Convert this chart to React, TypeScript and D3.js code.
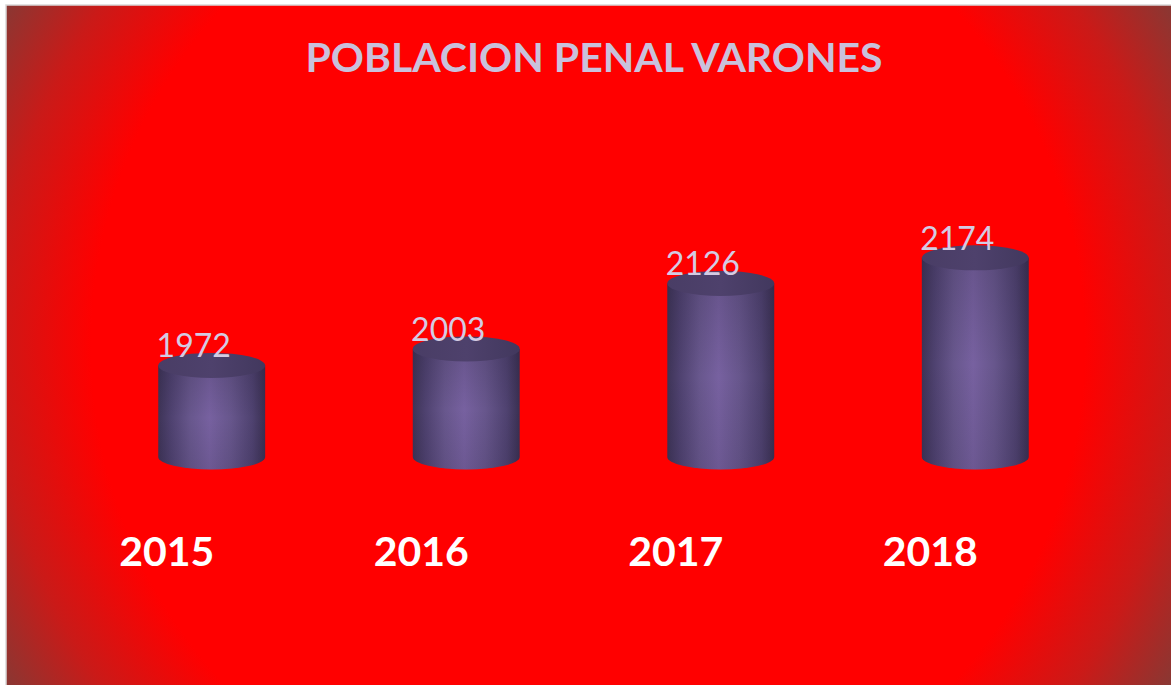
import React, { useEffect, useRef } from "react";
import * as d3 from "d3";

const years = ["2015", "2016", "2017", "2018"];
const values = [1972, 2003, 2126, 2174];
const title = "POBLACION PENAL VARONES";

const App = () => {
  const chartRef = useRef<SVGSVGElement>(null);

  useEffect(() => {
    const width = 1171;
    const height = 685;
    const data = years.map((year, i) => ({ year, value: values[i] }));

    d3.select(chartRef.current).selectAll("*").remove();

    const svg = d3
      .select(chartRef.current)
      .attr("width", width)
      .attr("height", height);

    const defs = svg.append("defs");

    // red background, darker towards the corners
    const bg = defs
      .append("radialGradient")
      .attr("id", "bg")
      .attr("gradientUnits", "userSpaceOnUse")
      .attr("cx", 588)
      .attr("cy", 345)
      .attr("r", 690);
    bg.append("stop").attr("offset", 0).attr("stop-color", "#ff0000");
    bg.append("stop").attr("offset", 0.72).attr("stop-color", "#ff0000");
    bg.append("stop").attr("offset", 0.86).attr("stop-color", "#ca1a18");
    bg.append("stop").attr("offset", 1).attr("stop-color", "#7d3d38");

    const body = defs.append("linearGradient").attr("id", "body");
    body.append("stop").attr("offset", 0).attr("stop-color", "#3e3457");
    body.append("stop").attr("offset", 0.12).attr("stop-color", "#4f4270");
    body.append("stop").attr("offset", 0.3).attr("stop-color", "#68578d");
    body.append("stop").attr("offset", 0.48).attr("stop-color", "#7761a0");
    body.append("stop").attr("offset", 0.68).attr("stop-color", "#67568c");
    body.append("stop").attr("offset", 0.88).attr("stop-color", "#4f4270");
    body.append("stop").attr("offset", 1).attr("stop-color", "#3a3052");

    // soft vertical shading over the body
    const shade = defs
      .append("linearGradient")
      .attr("id", "shade")
      .attr("x1", 0)
      .attr("y1", 0)
      .attr("x2", 0)
      .attr("y2", 1);
    shade.append("stop").attr("offset", 0).attr("stop-color", "#1e1830").attr("stop-opacity", 0.18);
    shade.append("stop").attr("offset", 0.5).attr("stop-color", "#1e1830").attr("stop-opacity", 0);
    shade.append("stop").attr("offset", 1).attr("stop-color", "#1e1830").attr("stop-opacity", 0.12);

    const top = defs.append("linearGradient").attr("id", "top");
    top.append("stop").attr("offset", 0).attr("stop-color", "#493d65");
    top.append("stop").attr("offset", 0.5).attr("stop-color", "#4e416c");
    top.append("stop").attr("offset", 1).attr("stop-color", "#42385e");

    svg
      .append("rect")
      .attr("x", 6)
      .attr("y", 5)
      .attr("width", width)
      .attr("height", height)
      .attr("fill", "url(#bg)")
      .attr("stroke", "#d9d9d9")
      .attr("stroke-width", 1.5);

    const x = d3
      .scaleBand()
      .domain(years)
      .range([31, 1156])
      .paddingInner(0.58)
      .paddingOuter(0.5);

    const y = d3.scaleLinear().domain([1800, 2200]).range([457, 244]);

    const rx = x.bandwidth() / 2;
    const ry = 12.5;

    const bars = svg
      .selectAll(".bar")
      .data(data)
      .enter()
      .append("g")
      .attr("class", "bar");

    const bodyPath = (d) => {
      const cx = x(d.year)! + rx;
      const y0 = y(1800);
      const y1 = y(d.value);
      return `M${cx - rx},${y1} L${cx - rx},${y0} A${rx},${ry} 0 0 0 ${cx + rx},${y0} L${cx + rx},${y1} Z`;
    };

    bars.append("path").attr("d", bodyPath).attr("fill", "url(#body)");
    bars.append("path").attr("d", bodyPath).attr("fill", "url(#shade)");

    bars
      .append("ellipse")
      .attr("cx", (d) => x(d.year)! + rx)
      .attr("cy", (d) => y(d.value))
      .attr("rx", rx)
      .attr("ry", ry)
      .attr("fill", "url(#top)");

    bars
      .append("text")
      .attr("x", (d) => x(d.year)! + rx - 18)
      .attr("y", (d) => y(d.value) - 8)
      .attr("text-anchor", "middle")
      .attr("font-family", "Lato, sans-serif")
      .attr("font-size", 32)
      .attr("fill", "#d3cbe3")
      .text((d) => d.value);

    svg
      .selectAll(".year")
      .data(data)
      .enter()
      .append("text")
      .attr("class", "year")
      .attr("x", (d) => x(d.year)! + rx - 45)
      .attr("y", 566)
      .attr("text-anchor", "middle")
      .attr("font-family", "Lato, sans-serif")
      .attr("font-weight", "bold")
      .attr("font-size", 41)
      .attr("fill", "#ffffff")
      .text((d) => d.year);

    svg
      .append("text")
      .attr("x", 594)
      .attr("y", 72)
      .attr("text-anchor", "middle")
      .attr("font-family", "Lato, sans-serif")
      .attr("font-weight", "bold")
      .attr("font-size", 41)
      .attr("fill", "#c9c1dc")
      .text(title);
  }, []);

  return (
    <svg
      ref={chartRef}
      style={{ position: "absolute", left: 0, top: 0, display: "block" }}
    ></svg>
  );
};

export default App;
